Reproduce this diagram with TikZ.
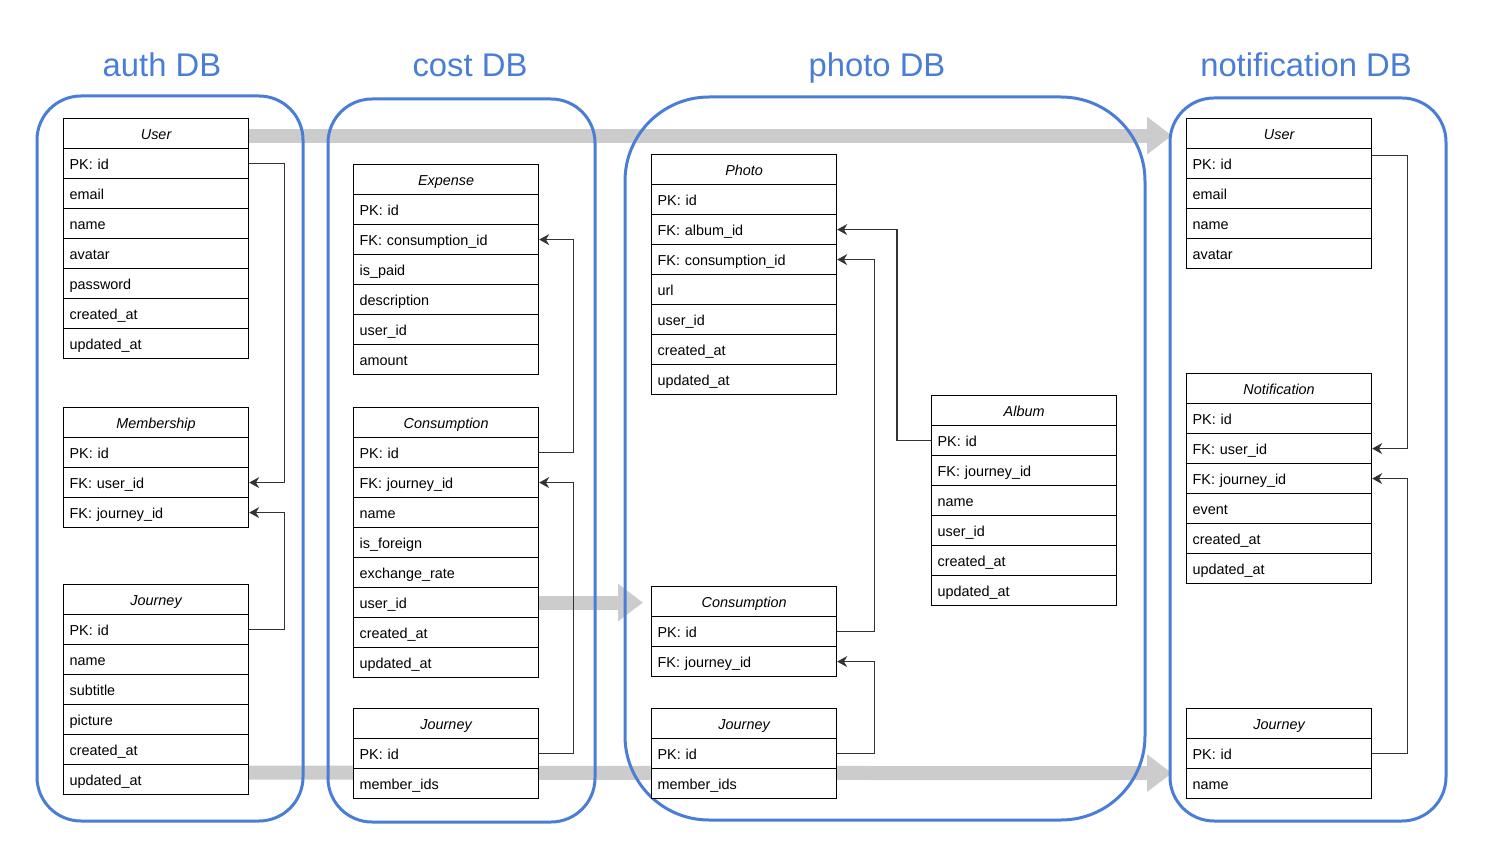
\documentclass[tikz,border=0pt]{standalone}
\usepackage{fontspec}
\setmainfont{Liberation Sans}
\usetikzlibrary{arrows.meta,backgrounds}

\definecolor{dbblue}{RGB}{74,126,214}
\definecolor{flowgrey}{RGB}{204,204,204}

\tikzset{
  tblcell/.style={draw=black,line width=0.6pt,fill=white,anchor=north west,
    minimum height=15pt,inner ysep=0pt,inner xsep=3pt,text width=86.5pt,
    text height=6.2pt,text depth=0.5pt,font=\fontsize{7.2pt}{8pt}\selectfont},
  tblhead/.style={tblcell,align=center,font=\fontsize{7.2pt}{8pt}\selectfont\itshape},
  tblrow/.style={tblcell,align=left},
  dbbox/.style={draw=dbblue,line width=1.5pt,rounded corners=22pt},
  dbtitle/.style={text=dbblue,text height=12pt,text depth=3.5pt,
    font=\fontsize{16.4pt}{19pt}\selectfont},
  fk/.style={draw=black!80,line width=0.6pt,-{Stealth[length=5pt,width=5.5pt]}},
  flow/.style={draw=flowgrey,line width=7pt,-{Triangle[length=12.5pt,width=18pt]}}
}

% table: name, x, y (top), title, rows
\newcommand{\dbtable}[5]{%
  \node[tblhead] (#1-0) at ({#2},{#3}) {#4};
  \foreach \r [count=\i] in {#5} {
    \node[tblrow] (#1-\i) at ({#2},{#3+30*\i}) {\r};
  }
}

\begin{document}
\begin{tikzpicture}[x=0.5pt,y=-0.5pt]
  \useasboundingbox (0,0) rectangle (1500,844);

  % titles
  \node[dbtitle] (tauth) at (162,68) {auth DB};
  \node[dbtitle] (tcost) at (470,68) {cost DB};
  \node[dbtitle] (tphoto) at (877,68) {photo DB};
  \node[dbtitle] (tnotif) at (1306,68) {notification DB};

  % auth DB
  \dbtable{auser}{63}{118}{User}{PK: id,email,name,avatar,password,created\_at,updated\_at}
  \dbtable{amem}{63}{407}{Membership}{PK: id,FK: user\_id,FK: journey\_id}
  \dbtable{ajour}{63}{584}{Journey}{PK: id,name,subtitle,picture,created\_at,updated\_at}

  % cost DB
  \dbtable{cexp}{353}{164}{Expense}{PK: id,FK: consumption\_id,is\_paid,description,user\_id,amount}
  \dbtable{ccons}{353}{407}{Consumption}{PK: id,FK: journey\_id,name,is\_foreign,exchange\_rate,user\_id,created\_at,updated\_at}
  \dbtable{cjour}{353}{708}{Journey}{PK: id,member\_ids}

  % photo DB
  \dbtable{pphoto}{651}{154}{Photo}{PK: id,FK: album\_id,FK: consumption\_id,url,user\_id,created\_at,updated\_at}
  \dbtable{palbum}{931}{395}{Album}{PK: id,FK: journey\_id,name,user\_id,created\_at,updated\_at}
  \dbtable{pcons}{651}{586}{Consumption}{PK: id,FK: journey\_id}
  \dbtable{pjour}{651}{708}{Journey}{PK: id,member\_ids}

  % notification DB
  \dbtable{nuser}{1186}{118}{User}{PK: id,email,name,avatar}
  \dbtable{nnotif}{1186}{373}{Notification}{PK: id,FK: user\_id,FK: journey\_id,event,created\_at,updated\_at}
  \dbtable{njour}{1186}{708}{Journey}{PK: id,name}

  % keys
  \draw[fk] (auser-1.east) -- ++(35,0) |- (amem-2.east);
  \draw[fk] (ajour-1.east) -- ++(35,0) |- (amem-3.east);
  \draw[fk] (ccons-1.east) -- ++(34,0) |- (cexp-2.east);
  \draw[fk] (cjour-1.east) -- ++(34,0) |- (ccons-2.east);
  \draw[fk] (palbum-1.west) -- ++(-34,0) |- (pphoto-2.east);
  \draw[fk] (pcons-1.east) -- ++(37,0) |- (pphoto-3.east);
  \draw[fk] (pjour-1.east) -- ++(37,0) |- (pcons-2.east);
  \draw[fk] ([yshift=4pt]nuser-1.east) -- ++(35,0) |- (nnotif-2.east);
  \draw[fk] (njour-1.east) -- ++(35,0) |- (nnotif-3.east);

  \begin{scope}[on background layer]
    % data flow
    \draw[flow,shorten >=7pt] ([yshift=-1pt]auser-0.east) -- ([yshift=-1pt]nuser-0.west);
    \draw[flow,shorten >=4pt] (ccons-6.east) -- (ccons-6.east -| pcons-0.west);
    \draw[flow,shorten >=7pt] ([yshift=3.5pt]ajour-6.east) -- ([yshift=-2pt]njour-1.south west);

    % databases
    \draw[dbbox] (37,96) rectangle (303,821);
    \draw[dbbox] (328,99) rectangle (595,822);
    \draw[dbbox,rounded corners=42pt] (625,97) rectangle (1145,820);
    \draw[dbbox] (1170,98) rectangle (1446,821);
  \end{scope}
\end{tikzpicture}
\end{document}
